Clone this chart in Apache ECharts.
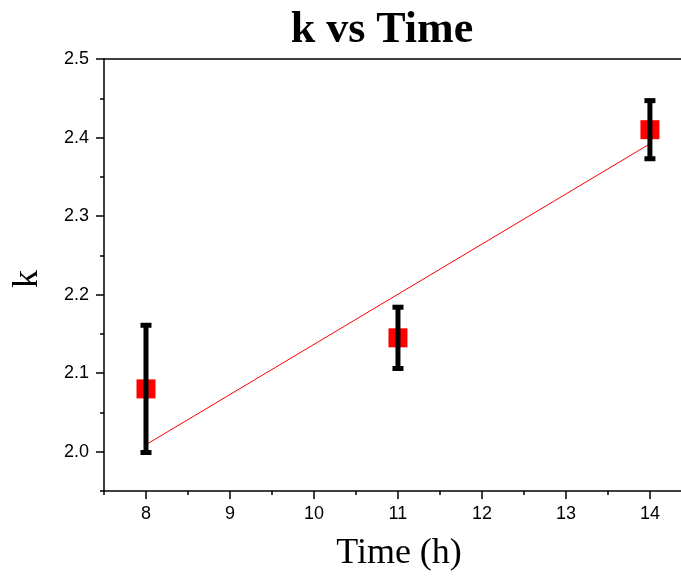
<!DOCTYPE html>
<html>
<head>
<meta charset="utf-8">
<script src="https://cdn.jsdelivr.net/npm/echarts@6/dist/echarts.min.js"></script>
<style>html,body{margin:0;padding:0;background:#fff}#c{width:681px;height:576px}</style>
</head>
<body>
<div id="c"></div>
<script>
// ---- data ----
const timeValues = [8, 11, 14];
const kValues = [2.08, 2.145, 2.41];
const kErrors = [0.081, 0.039, 0.037];
const fitX = [8, 14];
const fitY = [2.009, 2.392];
const xTickLabels = [8, 9, 10, 11, 12, 13, 14];
const xMinorTicks = [7.5, 8.5, 9.5, 10.5, 11.5, 12.5, 13.5];
const yTickLabels = [2.0, 2.1, 2.2, 2.3, 2.4, 2.5];
const yMinorTicks = [1.95, 2.05, 2.15, 2.25, 2.35, 2.45];

const chart = echarts.init(document.getElementById('c'), null, {renderer: 'canvas'});

const pointData = timeValues.map((t, i) => [t, kValues[i]]);
const errData = timeValues.map((t, i) => [t, kValues[i] - kErrors[i], kValues[i] + kErrors[i]]);
const fitData = fitX.map((x, i) => [x, fitY[i]]);

const axisColor = '#000';
const labelFont = 'Liberation Sans, Arial, sans-serif';
const serif = 'Liberation Serif, Times New Roman, serif';
const X_MIN = 7.5, X_MAX = 14.37, Y_MIN = 1.95, Y_MAX = 2.5;

chart.setOption({
  animation: false,
  backgroundColor: '#fff',
  grid: {left: 104, top: 59, right: 0, bottom: 85, show: false},
  xAxis: [
    {
      type: 'value', min: X_MIN, max: X_MAX, position: 'bottom',
      axisLine: {show: true, onZero: false, lineStyle: {color: axisColor, width: 1.5}},
      axisTick: {show: true, customValues: xTickLabels, length: 8, inside: false, lineStyle: {color: axisColor, width: 1.5}},
      axisLabel: {show: true, customValues: xTickLabels, margin: 14, fontSize: 18, color: '#000', fontFamily: labelFont,
        formatter: v => String(v)},
      splitLine: {show: false}
    },
    {
      type: 'value', min: X_MIN, max: X_MAX, position: 'bottom',
      axisLine: {show: false, onZero: false},
      axisTick: {show: true, customValues: xMinorTicks, length: 4, lineStyle: {color: axisColor, width: 1.5}},
      axisLabel: {show: false},
      splitLine: {show: false}
    },
    {
      type: 'value', min: X_MIN, max: X_MAX, position: 'top',
      axisLine: {show: true, onZero: false, lineStyle: {color: axisColor, width: 1.5}},
      axisTick: {show: false},
      axisLabel: {show: false},
      splitLine: {show: false}
    }
  ],
  yAxis: [
    {
      type: 'value', min: Y_MIN, max: Y_MAX, position: 'left',
      axisLine: {show: true, onZero: false, lineStyle: {color: axisColor, width: 1.5}},
      axisTick: {show: true, customValues: yTickLabels, length: 8, lineStyle: {color: axisColor, width: 1.5}},
      axisLabel: {show: true, customValues: yTickLabels, margin: 15, fontSize: 18, color: '#000', fontFamily: labelFont,
        formatter: v => Number(v).toFixed(1)},
      splitLine: {show: false}
    },
    {
      type: 'value', min: Y_MIN, max: Y_MAX, position: 'left',
      axisLine: {show: false, onZero: false},
      axisTick: {show: true, customValues: yMinorTicks, length: 4, lineStyle: {color: axisColor, width: 1.5}},
      axisLabel: {show: false},
      splitLine: {show: false}
    }
  ],
  series: [
    {
      type: 'line', xAxisIndex: 0, yAxisIndex: 0, data: fitData,
      showSymbol: false, symbol: 'none',
      lineStyle: {color: '#ff0000', width: 1}, z: 2
    },
    {
      type: 'scatter', xAxisIndex: 0, yAxisIndex: 0, data: pointData,
      symbol: 'rect', symbolSize: 19,
      itemStyle: {color: '#ff0000', opacity: 1}, z: 3
    },
    {
      type: 'custom', xAxisIndex: 0, yAxisIndex: 0, data: errData, z: 4,
      renderItem: (params, api) => {
        const x = api.value(0), lo = api.value(1), hi = api.value(2);
        const top = api.coord([x, hi]);
        const bot = api.coord([x, lo]);
        return {
          type: 'group',
          children: [
            {type: 'line', shape: {x1: top[0], y1: top[1], x2: bot[0], y2: bot[1]}, style: {stroke: '#000', lineWidth: 5}},
            {type: 'rect', shape: {x: top[0] - 5.5, y: top[1] - 2.5, width: 11, height: 5}, style: {fill: '#000'}},
            {type: 'rect', shape: {x: bot[0] - 5.5, y: bot[1] - 2.5, width: 11, height: 5}, style: {fill: '#000'}}
          ]
        };
      }
    }
  ],
  graphic: [
    {type: 'text', x: 382, y: 31, z: 10,
      style: {text: 'k vs Time', font: 'bold 44px ' + serif, fill: '#000', align: 'center', verticalAlign: 'middle'}},
    {type: 'text', x: 399, y: 554, z: 10,
      style: {text: 'Time (h)', font: '36px ' + serif, fill: '#000', align: 'center', verticalAlign: 'middle'}},
    {type: 'text', x: 28, y: 279, rotation: Math.PI / 2, z: 10,
      style: {text: 'k', font: '36px ' + serif, fill: '#000', align: 'center', verticalAlign: 'middle'}}
  ]
});
</script>
</body>
</html>
